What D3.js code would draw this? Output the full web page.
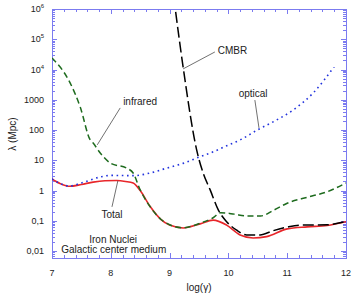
<!DOCTYPE html>
<html>
<head>
<meta charset="utf-8">
<script src="https://cdn.jsdelivr.net/npm/d3@7"></script>
<style>
  body { margin: 0; background: #fff; }
  svg { display: block; font-family: "Liberation Sans", Arial, sans-serif; }
</style>
</head>
<body>
<svg id="chart" width="354" height="294"></svg>
<script>
// log(gamma) positions and attenuation length lambda (Mpc)
const totalX = [7.0, 7.15, 7.3, 7.5, 7.7, 7.9, 8.1, 8.25, 8.38, 8.5, 8.67, 8.85, 9.0, 9.23, 9.52, 9.74, 9.97, 10.2, 10.42, 10.65, 11.0, 11.34, 11.68, 12.0];
const totalY = [2.4, 1.66, 1.38, 1.58, 1.9, 2.1, 2.14, 2.0, 1.78, 1.0, 0.295, 0.112, 0.072, 0.058, 0.079, 0.105, 0.072, 0.034, 0.027, 0.030, 0.054, 0.063, 0.070, 0.093];

const infraredX = [7.0, 7.31, 7.48, 7.65, 7.7, 7.82, 8.0, 8.27, 8.38, 8.5, 8.67, 8.85, 9.0, 9.23, 9.52, 9.74, 9.87, 10.1, 10.3, 10.55, 10.77, 11.0, 11.34, 11.68, 12.0];
const infraredY = [24000, 3550, 575, 47, 37, 17.4, 7.9, 5.5, 3.8, 1.05, 0.29, 0.112, 0.074, 0.059, 0.083, 0.126, 0.186, 0.166, 0.145, 0.145, 0.224, 0.38, 0.60, 0.91, 1.78];

const opticalX = [7.0, 7.3, 7.5, 7.82, 8.0, 8.38, 8.67, 8.95, 9.23, 9.52, 9.74, 10.0, 10.2, 10.49, 10.76, 11.1, 11.44, 11.8];
const opticalY = [2.4, 1.41, 1.78, 2.8, 3.16, 3.1, 3.8, 5.5, 7.9, 13.2, 19, 32, 47, 100, 186, 457, 1660, 12500];

const cmbrX = [9.07, 9.23, 9.46, 9.57, 9.69, 9.83, 9.97, 10.14, 10.31, 10.54, 10.76, 11.0, 11.22, 11.68, 12.0];
const cmbrY = [2.5e6, 12000, 22, 3.8, 1.05, 0.224, 0.093, 0.049, 0.034, 0.034, 0.047, 0.062, 0.072, 0.074, 0.095];

const xTicks = [7, 8, 9, 10, 11, 12];
const yTicks = [1e-2, 1e-1, 1, 10, 100, 1000, 1e4, 1e5, 1e6];
const yTickLabels = ["0,01", "0,1", "1", "10", "100", "1000", "10^4", "10^5", "10^6"];

const svg = d3.select("#chart");
const pLeft = 52, pRight = 346, pTop = 9, pBottom = 258;
const axisColor = "#7b7bf0";

const x = d3.scaleLinear().domain([7, 12]).range([pLeft, pRight]);
const y = d3.scaleLog().domain([Math.pow(10, -2.23), 1e6]).range([pBottom, pTop]);

svg.append("clipPath").attr("id", "clip")
  .append("rect").attr("x", pLeft).attr("y", pTop)
  .attr("width", pRight - pLeft).attr("height", pBottom - pTop);

// frame
svg.append("rect")
  .attr("x", pLeft + 0.5).attr("y", pTop + 0.5)
  .attr("width", pRight - pLeft).attr("height", pBottom - pTop)
  .attr("fill", "none").attr("stroke", axisColor).attr("stroke-width", 1);

const ticks = svg.append("g").attr("stroke", axisColor).attr("stroke-width", 1);

// x ticks, top and bottom
for (let v = 7; v <= 12.001; v += 0.2) {
  let major = Math.abs(v - Math.round(v)) < 1e-6;
  let len = major ? 5 : 3;
  let px = Math.round(x(v)) + 0.5;
  ticks.append("line").attr("x1", px).attr("x2", px).attr("y1", pBottom).attr("y2", pBottom - len);
  ticks.append("line").attr("x1", px).attr("x2", px).attr("y1", pTop).attr("y2", pTop + len);
}

// y ticks, left and right (log minor ticks)
for (let e = -3; e <= 5; e++) {
  for (let m = 1; m <= 9; m++) {
    let v = m * Math.pow(10, e);
    if (v < y.domain()[0] || v > 1e6) continue;
    let len = m === 1 ? 5 : 3;
    let py = Math.round(y(v)) + 0.5;
    ticks.append("line").attr("x1", pLeft).attr("x2", pLeft + len).attr("y1", py).attr("y2", py);
    ticks.append("line").attr("x1", pRight).attr("x2", pRight - len).attr("y1", py).attr("y2", py);
  }
}

// tick labels
svg.append("g").selectAll("text")
  .data(xTicks).enter().append("text")
  .attr("x", d => x(d)).attr("y", 276)
  .attr("text-anchor", "middle").attr("font-size", 9).attr("fill", "#222")
  .text(d => d);

const yl = svg.append("g").selectAll("text")
  .data(yTicks).enter().append("text")
  .attr("x", 44).attr("y", d => y(d) + 3)
  .attr("text-anchor", "end").attr("font-size", 9).attr("fill", "#222");
yl.each(function (d, i) {
  let lab = yTickLabels[i];
  let t = d3.select(this);
  if (lab.indexOf("^") >= 0) {
    let parts = lab.split("^");
    t.append("tspan").text(parts[0]);
    t.append("tspan").attr("font-size", 6).attr("dy", -4).text(parts[1]);
  } else {
    t.text(lab);
  }
});

// axis titles
svg.append("text").attr("x", 199).attr("y", 291)
  .attr("text-anchor", "middle").attr("font-size", 10).attr("fill", "#222")
  .text("log(γ)");
svg.append("text")
  .attr("transform", "translate(16,134) rotate(-90)")
  .attr("text-anchor", "middle").attr("font-size", 10).attr("fill", "#222")
  .text("λ (Mpc)");

// curves
const line = d3.line()
  .x(d => x(d[0])).y(d => y(d[1]))
  .curve(d3.curveMonotoneX);

const plot = svg.append("g").attr("clip-path", "url(#clip)");

function drawCurve(xs, ys, color, dash, width) {
  plot.append("path")
    .datum(d3.zip(xs, ys))
    .attr("d", line)
    .attr("fill", "none")
    .attr("stroke", color)
    .attr("stroke-width", width)
    .attr("stroke-dasharray", dash);
}

drawCurve(totalX, totalY, "#e8262a", null, 1.6);
drawCurve(infraredX, infraredY, "#1e6b1e", "6,3.5", 1.5);
drawCurve(cmbrX, cmbrY, "#000", "11,4", 1.5);
drawCurve(opticalX, opticalY, "#2233dd", "1.6,3.6", 1.6);

// annotations, in data coordinates (log gamma, log10 lambda)
const notes = [
  { text: "CMBR", tx: 9.82, ty: 4.51, anchor: "start", l: [9.77, 4.58, 9.23, 4.02] },
  { text: "optical", tx: 10.42, ty: 3.09, anchor: "middle", l: [10.45, 2.99, 10.52, 2.07] },
  { text: "infrared", tx: 8.21, ty: 2.83, anchor: "start", l: [8.16, 2.73, 7.77, 1.51] },
  { text: "Total", tx: 8.02, ty: -0.91, anchor: "middle", l: [8.12, 0.32, 8.02, -0.54] }
];
notes.forEach(n => {
  svg.append("line")
    .attr("x1", x(n.l[0])).attr("y1", y(Math.pow(10, n.l[1])))
    .attr("x2", x(n.l[2])).attr("y2", y(Math.pow(10, n.l[3])))
    .attr("stroke", "#333").attr("stroke-width", 0.7);
  svg.append("text")
    .attr("x", x(n.tx)).attr("y", y(Math.pow(10, n.ty)))
    .attr("text-anchor", n.anchor).attr("font-size", 10).attr("fill", "#222")
    .text(n.text);
});

svg.append("text").attr("x", x(8.04)).attr("y", y(Math.pow(10, -1.73)))
  .attr("text-anchor", "middle").attr("font-size", 10).attr("fill", "#222")
  .text("Iron Nuclei");
svg.append("text").attr("x", x(8.05)).attr("y", y(Math.pow(10, -2.06)))
  .attr("text-anchor", "middle").attr("font-size", 10).attr("fill", "#222")
  .text("Galactic center medium");
</script>
</body>
</html>
